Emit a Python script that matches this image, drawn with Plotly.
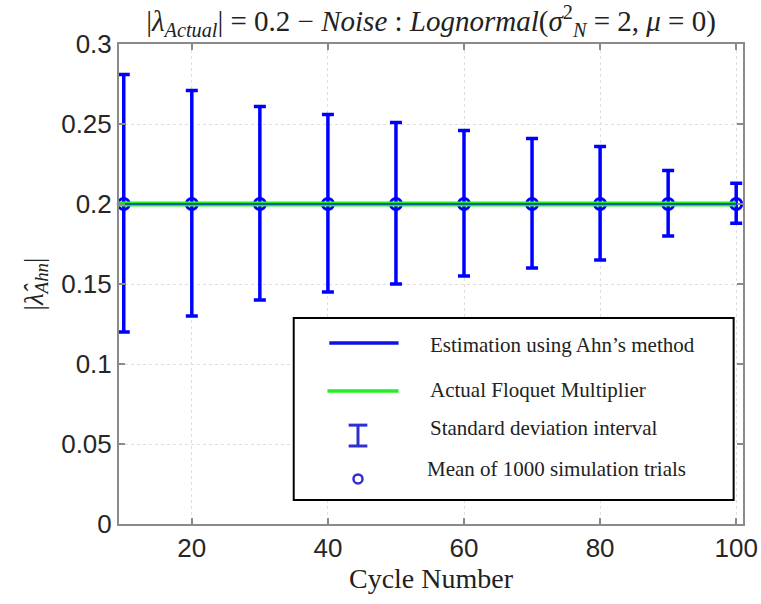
import plotly.graph_objects as go

cycles = [10, 20, 30, 40, 50, 60, 70, 80, 90, 100]
mean_est = [0.2, 0.2, 0.2, 0.2, 0.2, 0.2, 0.2, 0.2, 0.2, 0.2]
upper = [0.281, 0.271, 0.261, 0.256, 0.251, 0.246, 0.241, 0.236, 0.221, 0.213]
lower = [0.120, 0.130, 0.140, 0.145, 0.150, 0.155, 0.160, 0.165, 0.180, 0.188]
actual_value = 0.2

err_plus = [u - m for u, m in zip(upper, mean_est)]
err_minus = [m - l for m, l in zip(mean_est, lower)]

BLUE = "#0000ff"
GREEN = "#22ee22"
SERIF = "Liberation Serif, DejaVu Serif, serif"
SANS = "Liberation Sans, Arial, sans-serif"

fig = go.Figure()
fig.add_trace(go.Scatter(
    x=cycles, y=mean_est, mode="markers",
    marker=dict(symbol="circle-open", size=11, color=BLUE, line=dict(width=3, color=BLUE)),
    error_y=dict(type="data", symmetric=False, array=err_plus, arrayminus=err_minus,
                 color=BLUE, thickness=3.5, width=6),
    showlegend=False, cliponaxis=False,
))
fig.add_trace(go.Scatter(
    x=[9.3] + cycles, y=[actual_value] * (len(cycles) + 1), mode="lines",
    line=dict(color=GREEN, width=5), showlegend=False,
))
fig.add_trace(go.Scatter(
    x=cycles, y=mean_est, mode="lines",
    line=dict(color="#1030c0", width=1.5), showlegend=False,
))

axis_common = dict(
    showline=True, linecolor="#8a8a8a", linewidth=2, mirror="ticks",
    ticks="inside", ticklen=6, tickcolor="#8a8a8a", tickwidth=1.5,
    showgrid=True, gridcolor="#dedede", griddash="dot", gridwidth=1,
    zeroline=False, ticklabeloverflow="allow", automargin=False,
    tickfont=dict(family=SANS, size=26, color="#262626"),
)

fig.update_xaxes(range=[9.3, 101], tickvals=[20, 40, 60, 80, 100],
                 title=dict(text="Cycle Number", font=dict(family=SERIF, size=28, color="#222"), standoff=4),
                 **axis_common)
fig.update_yaxes(range=[0, 0.3], dtick=0.05,
                 title=dict(text="|<i>λ̂</i><sub><i>Ahn</i></sub>|", font=dict(family=SERIF, size=27, color="#222"), standoff=10),
                 **axis_common)

# Legend box drawn manually
shapes = [
    dict(type="rect", xref="paper", yref="paper", x0=0.280, x1=0.985, y0=0.050, y1=0.429,
         line=dict(color="black", width=2), fillcolor="white", layer="above"),
    dict(type="line", xref="paper", yref="paper", x0=0.337, x1=0.448, y0=0.377, y1=0.377,
         line=dict(color="#1010e0", width=3.5), layer="above"),
    dict(type="line", xref="paper", yref="paper", x0=0.334, x1=0.448, y0=0.277, y1=0.277,
         line=dict(color=GREEN, width=3.5), layer="above"),
    dict(type="line", xref="paper", yref="paper", x0=0.383, x1=0.383, y0=0.1625, y1=0.206,
         line=dict(color="#3030d0", width=3), layer="above"),
    dict(type="line", xref="paper", yref="paper", x0=0.368, x1=0.398, y0=0.206, y1=0.206,
         line=dict(color="#3030d0", width=3), layer="above"),
    dict(type="line", xref="paper", yref="paper", x0=0.368, x1=0.398, y0=0.1625, y1=0.1625,
         line=dict(color="#3030d0", width=3), layer="above"),
    dict(type="circle", xref="paper", yref="paper", xsizemode="pixel", ysizemode="pixel",
         xanchor=0.383, yanchor=0.094, x0=-4.5, x1=4.5, y0=-4.5, y1=4.5,
         line=dict(color="#3030d0", width=2.5), layer="above"),
]
legend_texts = [
    ("Estimation using Ahn’s method", 0.495, 0.373),
    ("Actual Floquet Multiplier", 0.495, 0.279),
    ("Standard deviation interval", 0.495, 0.200),
    ("Mean of 1000 simulation trials", 0.490, 0.115),
]
annotations = [
    dict(text=t, x=x, y=y, xref="paper", yref="paper", xanchor="left", yanchor="middle",
         showarrow=False, font=dict(family=SERIF, size=21, color="#222"))
    for t, x, y in legend_texts
]

fig.update_layout(
    width=761, height=604,
    margin=dict(l=119, r=18, t=44, b=80, autoexpand=False),
    paper_bgcolor="white", plot_bgcolor="white",
    title=dict(text="|<i>λ</i><sub><i>Actual</i></sub>| = 0.2 − <i>Noise</i> : <i>Lognormal</i>(<i>σ</i><sup>2</sup><sub><i>N</i></sub> = 2, <i>μ</i> = 0)",
               x=0.5, xref="paper", xanchor="center", y=0.965, yanchor="middle", yref="container",
               font=dict(family=SERIF, size=29, color="#222")),
    shapes=shapes, annotations=annotations,
)

fig.write_html("out.html")
